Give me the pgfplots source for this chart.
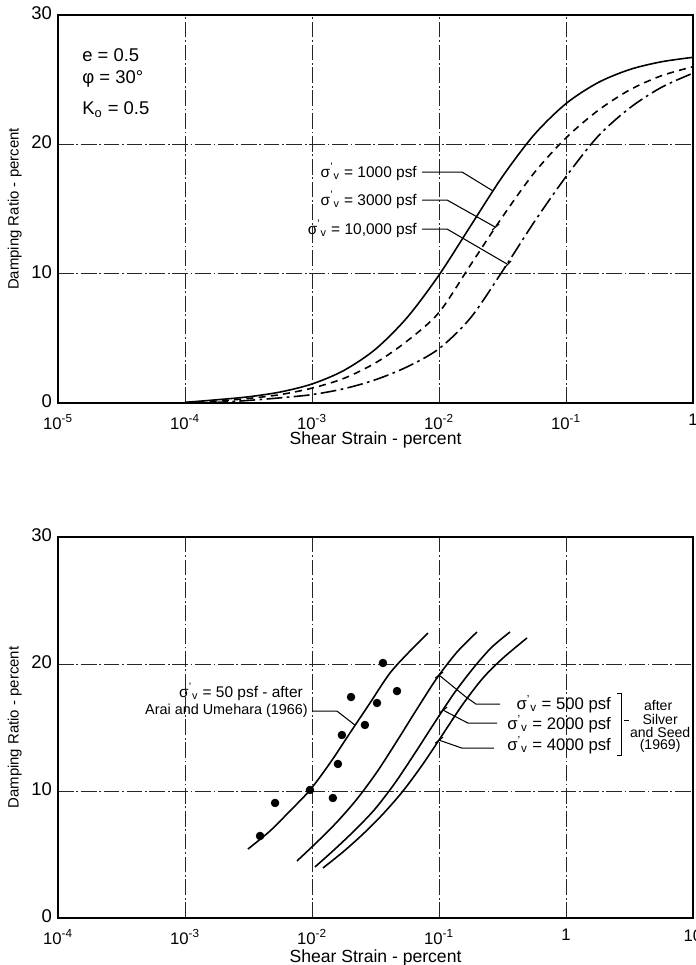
\documentclass[border=0pt]{standalone}
\usepackage{fontspec}
\setmainfont{Liberation Sans}
\usepackage{pgfplots}
\pgfplotsset{compat=1.18}

% effective vertical stress symbol
\newcommand{\sv}{σ\textsuperscript{'}\textsubscript{v}}

\pgfplotsset{
  damp/.style={
    scale only axis, width=12.7cm,
    ymin=0, ymax=30, ytick={0,10,20,30},
    /pgf/number format/assume math mode=true,
    xminorticks=false, grid=major,
    major grid style={black!85, line width=0.45pt,
      dash pattern=on 9pt off 1.5pt on 1pt off 1.5pt},
    axis line style={black, line width=0.8pt},
    major tick length=0pt,
    xticklabel style={font=\fontsize{9.5}{11}\selectfont, yshift=-3pt},
    yticklabel style={font=\fontsize{10.5}{12}\selectfont, yshift=1pt},
    ylabel style={font=\fontsize{8.5}{10}\selectfont},
    xlabel style={font=\fontsize{10}{12}\selectfont},
    ylabel={Damping Ratio - percent},
    xlabel={Shear Strain - percent},
    ylabel style={at={(axis description cs:-0.068,0.5)}, anchor=center},
  },
  dcurve/.style={black, line width=0.9pt, smooth, no marks},
}

\begin{document}
\begin{tikzpicture}

% ---------------- upper chart: effect of confining stress ----------------
\begin{semilogxaxis}[damp, at={(1.16cm,-8.06cm)}, anchor=south west, height=7.76cm,
  xmin=1e-5, xmax=1,
  xtick={1e-5,1e-4,1e-3,1e-2,1e-1,1},
  xticklabels={10\textsuperscript{-5},10\textsuperscript{-4},10\textsuperscript{-3},10\textsuperscript{-2},10\textsuperscript{-1},1},
  xlabel style={at={(axis description cs:0.5,-0.094)}, anchor=center},
]
% sigma'_v = 1000 psf
\addplot[dcurve] coordinates {
 (1e-4,0.05) (1.778e-4,0.25) (3.162e-4,0.48) (5.623e-4,0.85) (1e-3,1.47)
 (1.778e-3,2.51) (3.162e-3,4.16) (5.623e-3,6.62) (0.01,9.89) (0.01778,13.71)
 (0.03162,17.51) (0.05623,20.75) (0.1,23.15) (0.1778,24.76) (0.3162,25.78)
 (0.5623,26.38) (1,26.73)};
% sigma'_v = 3000 psf
\addplot[dcurve, dash pattern=on 4pt off 3pt] coordinates {
 (1e-4,0.03) (1.778e-4,0.15) (3.162e-4,0.35) (5.623e-4,0.65) (1e-3,1.15)
 (1.778e-3,1.9) (3.162e-3,3.1) (5.623e-3,4.8) (0.01,7.0) (0.01778,10.7)
 (0.03162,14.4) (0.05623,17.8) (0.1,20.5) (0.1778,22.6) (0.3162,24.2)
 (0.5623,25.3) (1,26.0)};
% sigma'_v = 10,000 psf
\addplot[dcurve, dash pattern=on 9pt off 2.5pt on 1.5pt off 2.5pt] coordinates {
 (1e-4,0.0) (1.778e-4,0.05) (3.162e-4,0.2) (5.623e-4,0.4) (1e-3,0.65)
 (1.778e-3,1.1) (3.162e-3,1.8) (5.623e-3,2.8) (0.01,4.2) (0.01778,6.6)
 (0.03162,10.2) (0.05623,14.0) (0.1,17.5) (0.1778,20.6) (0.3162,22.8)
 (0.5623,24.4) (1,25.5)};
\end{semilogxaxis}

% ---------------- lower chart: comparison with test data ----------------
\begin{semilogxaxis}[damp, at={(1.16cm,-18.36cm)}, anchor=south west, height=7.62cm,
  xmin=1e-4, xmax=10,
  xtick={1e-4,1e-3,1e-2,1e-1,1,10},
  xticklabels={10\textsuperscript{-4},10\textsuperscript{-3},10\textsuperscript{-2},10\textsuperscript{-1},1,10},
  xlabel style={at={(axis description cs:0.5,-0.104)}, anchor=center},
]
% sigma'_v = 50 psf, Arai and Umehara (1966)
\addplot[dcurve] coordinates {
 (0.003133,5.43) (0.004668,6.85) (0.006711,8.43) (0.009645,10.08)
 (0.01386,12.20) (0.01991,14.57) (0.02862,16.93) (0.04113,19.29)
 (0.05910,21.02) (0.08189,22.44)};
% sigma'_v = 500 psf, Silver and Seed (1969)
\addplot[dcurve] coordinates {
 (0.007617,4.49) (0.01095,5.98) (0.01573,7.56) (0.02261,9.37) (0.03249,11.50)
 (0.04670,13.94) (0.06711,16.46) (0.09645,18.90) (0.1386,20.94) (0.1991,22.52)};
% sigma'_v = 2000 psf
\addplot[dcurve] coordinates {
 (0.01056,4.02) (0.01517,5.43) (0.02181,6.93) (0.03133,8.58) (0.04502,10.63)
 (0.06471,12.99) (0.09300,15.43) (0.1337,17.80) (0.1921,19.84) (0.2614,21.34)
 (0.3623,22.52)};
% sigma'_v = 4000 psf
\addplot[dcurve] coordinates {
 (0.01221,3.94) (0.01754,5.20) (0.02521,6.61) (0.03623,8.19) (0.05206,10.00)
 (0.07482,12.13) (0.1075,14.49) (0.1545,16.85) (0.2221,18.90) (0.3191,20.47)
 (0.4932,22.05)};
% test results
\addplot[only marks, mark=*, mark size=2.2pt, black] coordinates {
 (0.0039,6.46) (0.00512,9.06) (0.00964,10.08) (0.0146,9.45) (0.0160,12.13)
 (0.0172,14.41) (0.0261,15.20) (0.0203,17.40) (0.0325,16.93) (0.0467,17.87)
 (0.0362,20.08)};
\end{semilogxaxis}

% ---------------- annotations ----------------
\begin{scope}[x=0.02cm, y=-0.02cm, line width=0.6pt,
  every node/.style={font=\fontsize{8.8}{10}\selectfont, inner sep=1pt}]
  % soil parameters
  \node[anchor=west, font=\fontsize{10.5}{12}\selectfont] at (80,55) {e = 0.5};
  \node[anchor=west, font=\fontsize{10.5}{12}\selectfont] at (80,79) {φ = 30°};
  \node[anchor=west, font=\fontsize{10.5}{12}\selectfont] at (80,110) {K\textsubscript{o} = 0.5};
  % upper chart curve labels
  \node[anchor=east] at (419,172) {\sv\ = 1000 psf};
  \node[anchor=east] at (419,200) {\sv\ = 3000 psf};
  \node[anchor=east] at (419,229) {\sv\ = 10,000 psf};
  \draw (422,172) -- (462,172) -- (493,191);
  \draw (422,200) -- (447,200) -- (495,227);
  \draw (492,230) -- (499,224);
  \draw (422,229) -- (447,229) -- (507,264);
  \draw (504,268) -- (511,261);
  % lower chart labels
  \node[anchor=east] at (305,692) {\sv\ = 50 psf - after};
  \node[anchor=east, font=\fontsize{8.2}{10}\selectfont] at (310,711) {Arai and Umehara (1966)};
  \draw (312,711) -- (337,711) -- (355,725);
  \node[anchor=east, font=\fontsize{9.5}{11}\selectfont] at (613,704) {\sv\ = 500 psf};
  \node[anchor=east, font=\fontsize{9.5}{11}\selectfont] at (613,724) {\sv\ = 2000 psf};
  \node[anchor=east, font=\fontsize{9.5}{11}\selectfont] at (613,745) {\sv\ = 4000 psf};
  \draw (439,675) -- (466,697) -- (476,704) -- (500,704);
  \draw (435,678) -- (443,672);
  \draw (443,710) -- (468,723) -- (497,723);
  \draw (439,713) -- (447,707);
  \draw (439,740) -- (462,748) -- (494,748);
  \draw (435,743) -- (443,737);
  \draw (617,693) -- (621,693) -- (621,755) -- (617,755);
  \draw (624,720) -- (629,720);
  \begin{scope}[every node/.style={font=\fontsize{8}{9}\selectfont, inner sep=1pt}]
    \node at (658,705) {after};
    \node at (660,719) {Silver};
    \node at (660,732) {and Seed};
    \node at (660,746) {(1969)};
  \end{scope}
\end{scope}

\pgfresetboundingbox
\path[use as bounding box] (0,0) rectangle (13.92cm,-19.3cm);
\end{tikzpicture}
\end{document}
